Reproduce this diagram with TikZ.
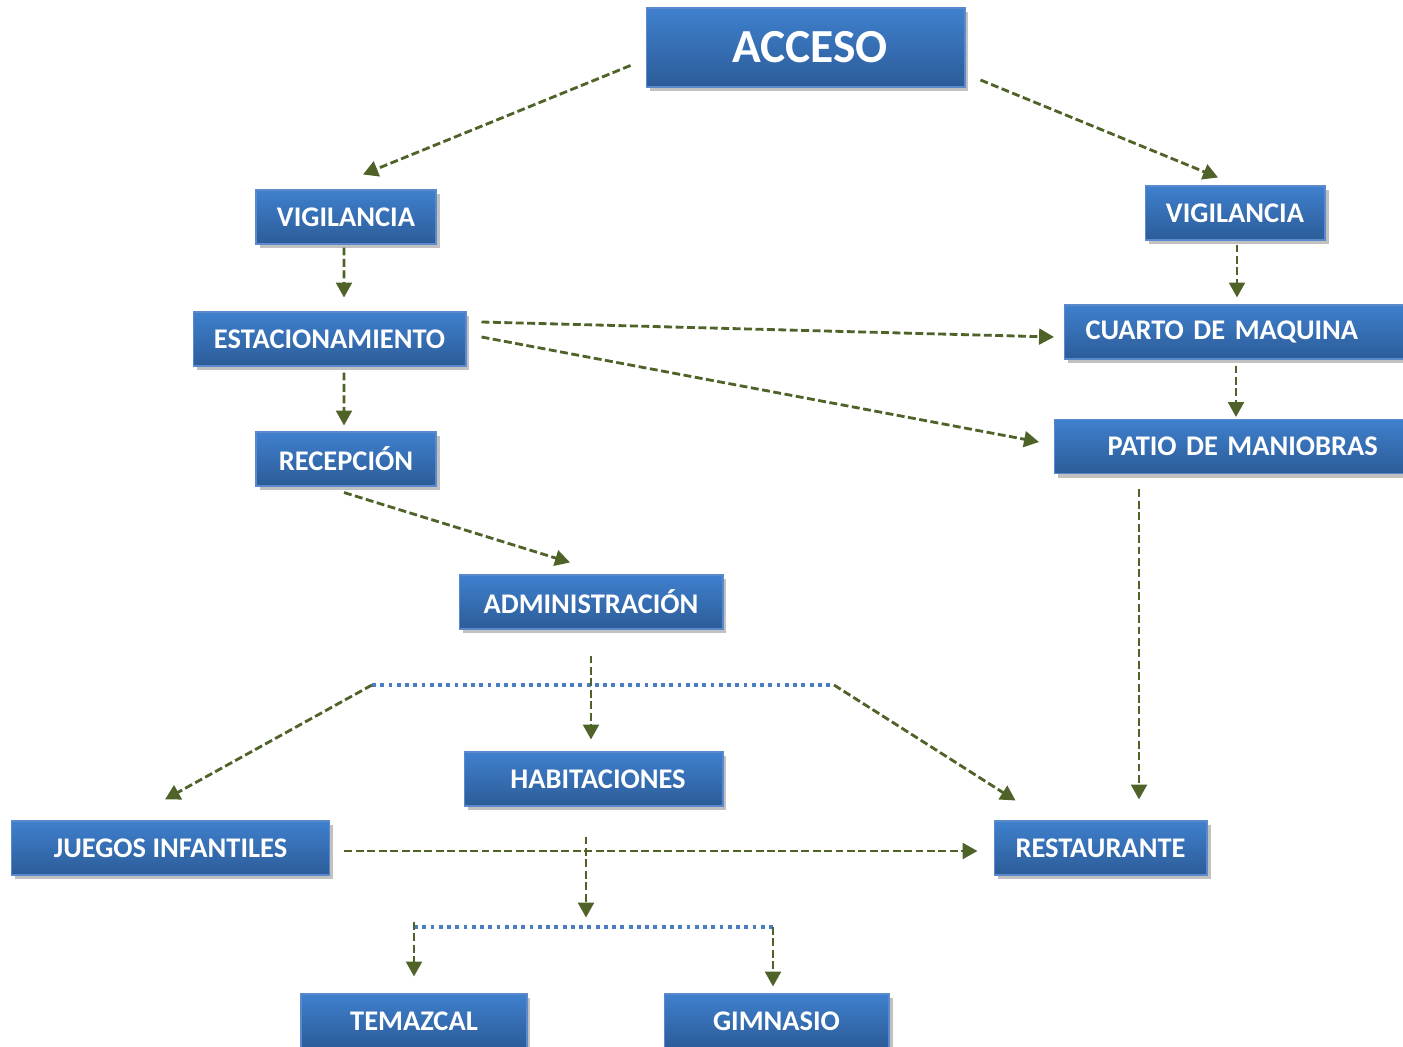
\documentclass[tikz,border=0pt]{standalone}
\usepackage{fontspec}
\setmainfont{Carlito}
\usepackage{tikz}
\usetikzlibrary{arrows.meta}
\usetikzlibrary{calc}
\usetikzlibrary{shadows}
\definecolor{azulalto}{HTML}{3F80CE}
\definecolor{azulbajo}{HTML}{2C5C98}
\definecolor{borde}{HTML}{5A8ACB}
\definecolor{olivo}{HTML}{4F6228}
\definecolor{punteo}{HTML}{4A7EC0}
\tikzset{
  caja/.style={rectangle, draw=borde, line width=0.6pt, top color=azulalto,
    bottom color=azulbajo, text=white, inner sep=0pt, minimum height=1.08cm,
    font=\fontsize{16.2}{19}\selectfont\bfseries,
    drop shadow={shadow xshift=2pt, shadow yshift=-2.5pt, opacity=0.4, fill=black!60}},
  flecha/.style={draw=olivo, line width=1.6pt, dash pattern=on 4.5pt off 2pt,
    -{Triangle[width=9pt,length=8.5pt]}},
  ramal/.style={draw=punteo, line width=2.2pt, dash pattern=on 2.2pt off 2.5pt}
}

\begin{document}
\begin{tikzpicture}[x=0.02cm, y=-0.02cm]
    \fill[white] (0,0) rectangle (1403,1047);
    \useasboundingbox (0,0) rectangle (1403,1047);

    \node[caja, minimum width=6.38cm, minimum height=1.58cm,
          font=\fontsize{27}{30}\selectfont\bfseries] (acceso) at (805.5,47.5) {\hspace*{0.18cm}ACCESO};
    \node[caja, minimum width=3.6cm] (vigl) at (346,217) {VIGILANCIA};
    \node[caja, minimum width=3.6cm] (vigr) at (1235,213) {VIGILANCIA};
    \node[caja, minimum width=5.46cm] (estac) at (329.5,339) {ESTACIONAMIENTO};
    \node[caja, anchor=west, inner xsep=0.42cm, text width=7cm, align=left]
          (cuarto) at (1064,332) {CUARTO DE MAQUINA};
    \node[caja, minimum width=3.6cm] (recep) at (346,459) {RECEPCIÓN};
    \node[caja, anchor=west, inner xsep=1.06cm, text width=7cm, align=left]
          (patio) at (1054,446.5) {PATIO DE MANIOBRAS};
    \node[caja, minimum width=5.28cm] (admin) at (591,602) {ADMINISTRACIÓN};
    \node[caja, minimum width=5.18cm] (hab) at (593.5,779) {\hspace*{0.18cm}HABITACIONES};
    \node[caja, minimum width=6.38cm] (juegos) at (170.5,848) {JUEGOS INFANTILES};
    \node[caja, minimum width=4.26cm] (rest) at (1100.5,848) {RESTAURANTE};
    \node[caja, minimum width=4.52cm] (temaz) at (414,1021) {TEMAZCAL};
    \node[caja, minimum width=4.5cm] (gimn) at (776.5,1021) {GIMNASIO};

    \coordinate (ra) at (372,685);
    \coordinate (rb) at (834,685);
    \coordinate (rc) at (414,927);
    \coordinate (rd) at (773,927);

    \draw[ramal] (ra) -- (rb);
    \draw[ramal] (rc) -- (rd);

    \draw[flecha] ($(acceso.west)+(-15,18)$) -- ($(vigl.north)+(17,-15)$);
    \draw[flecha] ($(acceso.east)+(15,32.5)$) -- ($(vigr.north)+(-17,-8)$);
    \draw[flecha] ($(vigl.south)+(-2,3)$) -- ($(estac.north)+(14.5,-14)$);
    \draw[flecha] ($(vigr.south)+(2,4)$) -- ($(vigr.south |- cuarto.north)+(2,-7)$);
    \draw[flecha] ($(estac.east)+(15,-17)$) -- ($(cuarto.west)+(-10,5)$);
    \draw[flecha] ($(estac.east)+(15,-2)$) -- ($(patio.west)+(-15,-4.5)$);
    \draw[flecha] ($(estac.south)+(14.5,6)$) -- ($(recep.north)+(-2,-6)$);
    \draw[flecha] ($(vigr.south |- cuarto.south)+(1,6)$) -- ($(vigr.south |- patio.north)+(1,-2)$);
    \draw[flecha] ($(recep.south)+(-2,6)$) -- ($(admin.north)+(-21,-12)$);
    \draw[flecha] ($(rest.north)+(38.5,-331)$) -- ($(rest.north)+(38.5,-21)$);
    \draw[flecha] ($(admin.south)+(0,26)$) -- ($(hab.north)+(-2.5,-12)$);
    \draw[flecha] (ra) -- ($(juegos.north)+(-5.5,-21)$);
    \draw[flecha] (rb) -- ($(rest.north west)+(22,-20)$);
    \draw[flecha] ($(juegos.east)+(14,3)$) -- ($(rest.west)+(-16,3)$);
    \draw[flecha] ($(hab.south)+(-7.5,30)$) -- ($(hab.south)+(-7.5,111)$);
    \draw[flecha] ($(rc)+(0,-5)$) -- ($(temaz.north)+(0,-17)$);
    \draw[flecha] (rd) -- ($(gimn.north)+(-3.5,-7)$);
\end{tikzpicture}
\end{document}
